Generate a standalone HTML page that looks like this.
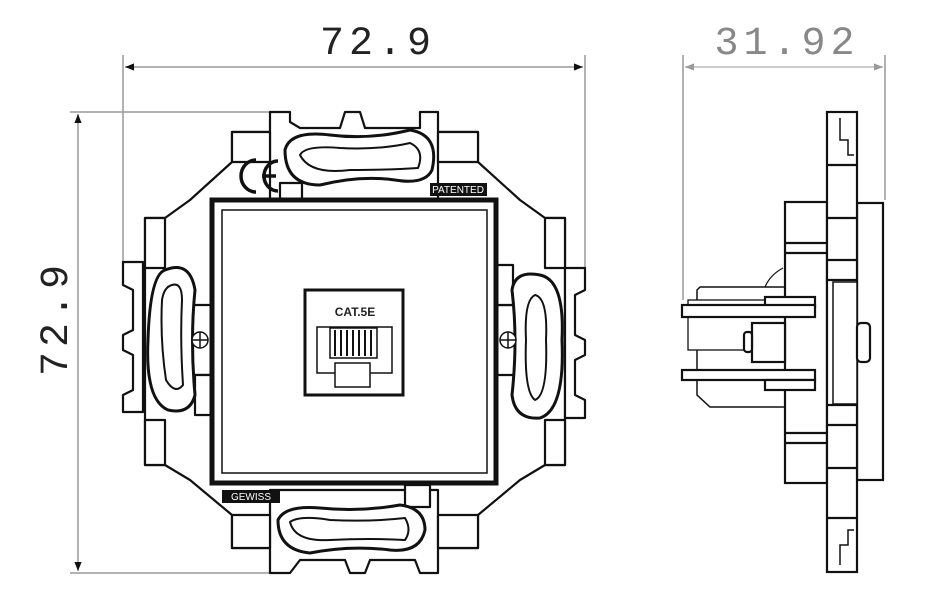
<!DOCTYPE html>
<html><head><meta charset="utf-8"><style>
html,body{margin:0;padding:0;background:#fff;}
svg{display:block;}
</style></head><body>
<svg width="944" height="600" viewBox="0 0 944 600" xmlns="http://www.w3.org/2000/svg">
<defs>
<marker id="ab" viewBox="0 0 10 10" refX="10" refY="5" markerWidth="8" markerHeight="6" orient="auto-start-reverse"><path d="M0,1 L10,5 L0,9z" fill="#111"/></marker>
<marker id="ag" viewBox="0 0 10 10" refX="10" refY="5" markerWidth="8" markerHeight="6" orient="auto-start-reverse"><path d="M0,1 L10,5 L0,9z" fill="#999"/></marker>
</defs>
<g fill="none" stroke="#999" stroke-width="1.5">
<line x1="123" y1="55" x2="123" y2="262"/>
<line x1="585" y1="55" x2="585" y2="268"/>
<line x1="70" y1="112" x2="270" y2="112"/>
<line x1="70" y1="573" x2="285" y2="573"/>
<line x1="683" y1="55" x2="683" y2="300"/>
<line x1="885" y1="55" x2="885" y2="200"/>
<line x1="125" y1="67" x2="583" y2="67" marker-start="url(#ab)" marker-end="url(#ab)"/>
<line x1="78" y1="114" x2="78" y2="571" marker-start="url(#ab)" marker-end="url(#ab)"/>
<line x1="685" y1="67" x2="883" y2="67" stroke="#bbb" marker-start="url(#ag)" marker-end="url(#ag)"/>
</g>
<g font-family="Liberation Mono, monospace" font-size="40">
<text x="378" y="54" text-anchor="middle" fill="#222" letter-spacing="5">72.9</text>
<text x="787" y="54" text-anchor="middle" fill="#888" letter-spacing="5">31.92</text>
<text transform="translate(67,318) rotate(-90)" text-anchor="middle" fill="#222" letter-spacing="5">72.9</text>
</g>

<g fill="#fff" stroke="#111" stroke-width="2.2" stroke-linejoin="round">
<path d="M232,132 L478,132 L478,162 L520,200 L545,218 L565,218 L565,465 L545,465 L520,480 L478,515 L478,548 L232,548 L232,515 L190,480 L165,465 L145,465 L145,218 L165,218 L190,200 L232,162 Z"/>
<path d="M123,262 L143,262 L143,412 L123,412 L123,395 L133,390 L133,355 L123,350 L123,335 L133,330 L133,290 L123,285 Z"/>
<path d="M585,268 L565,268 L565,418 L585,418 L585,400 L575,395 L575,360 L585,355 L585,340 L575,335 L575,295 L585,290 Z"/>
<path d="M270,112 L290,112 L290,122 L300,128 L340,128 L345,112 L360,112 L365,128 L420,128 L420,112 L438,112 L438,200 L270,200 Z"/>
<path d="M270,490 L438,490 L438,573 L420,573 L415,560 L370,560 L365,573 L350,573 L345,560 L300,560 L290,573 L270,573 Z"/>
<rect x="232" y="132" width="38" height="30"/>
<rect x="438" y="132" width="40" height="30"/>
<rect x="232" y="515" width="38" height="33"/>
<rect x="438" y="515" width="40" height="33"/>
<rect x="145" y="218" width="20" height="50"/>
<rect x="145" y="420" width="20" height="45"/>
<rect x="545" y="218" width="20" height="50"/>
<rect x="545" y="420" width="20" height="45"/>
<rect x="185" y="305" width="28" height="70"/>
<rect x="495" y="305" width="28" height="70"/>
<rect x="195" y="375" width="18" height="40"/>
<rect x="495" y="265" width="18" height="40"/>
<rect x="280" y="183" width="22" height="22"/>
<rect x="405" y="485" width="25" height="22"/>
</g>
<g fill="#fff" stroke="#111" stroke-width="3" stroke-linejoin="round">
<path d="M285,150 Q290,130 330,135 Q370,140 410,130 Q440,135 432,170 Q425,185 395,180 Q360,175 320,185 Q285,185 285,150 Z"/>
<path d="M300,155 Q305,145 340,148 Q380,150 410,143 Q425,150 418,168 Q390,170 350,170 Q310,175 300,155 Z" stroke-width="2"/>
<path d="M278,520 Q285,505 320,508 Q360,512 400,505 Q425,508 425,530 Q420,553 390,550 Q350,545 310,553 Q278,550 278,520 Z"/>
<path d="M290,522 Q300,515 330,520 Q370,522 405,518 Q412,530 405,540 Q370,538 330,540 Q295,542 290,522 Z" stroke-width="2"/>
<path d="M165,270 Q190,260 195,290 Q190,340 195,395 Q190,415 168,410 Q145,400 148,340 Q150,275 165,270 Z"/>
<path d="M172,285 Q182,282 182,300 Q180,340 183,385 Q175,395 166,380 Q160,340 162,300 Q164,287 172,285 Z" stroke-width="2"/>
<path d="M540,275 Q565,280 562,340 Q565,410 540,418 Q515,420 512,395 Q518,340 512,290 Q515,270 540,275 Z"/>
<path d="M535,295 Q548,298 546,340 Q548,395 535,400 Q524,392 526,340 Q524,300 535,295 Z" stroke-width="2"/>
</g>
<g fill="#fff" stroke="#111" stroke-width="1.5">
<circle cx="200" cy="340" r="8"/><line x1="192" y1="340" x2="208" y2="340"/><line x1="200" y1="332" x2="200" y2="348"/>
<circle cx="508" cy="340" r="8"/><line x1="500" y1="340" x2="516" y2="340"/><line x1="508" y1="332" x2="508" y2="348"/>
</g>
<g fill="none" stroke="#111" stroke-width="3.5">
<path d="M256,160 A15,16 0 1 0 256,192"/>
<path d="M278,161 A14,15 0 1 0 278,191 M262,176 L276,176"/>
</g>
<rect x="430" y="183" width="57" height="13" fill="#111"/>
<text x="458" y="193" font-family="Liberation Sans, sans-serif" font-size="10" fill="#fff" text-anchor="middle">PATENTED</text>
<rect x="222" y="490" width="58" height="13" fill="#111"/>
<text x="251" y="500" font-family="Liberation Sans, sans-serif" font-size="10" fill="#fff" text-anchor="middle">GEWISS</text>
<rect x="212" y="200" width="284" height="283" fill="#fff" stroke="#111" stroke-width="5"/>
<rect x="222" y="210" width="265" height="263" fill="#fff" stroke="#111" stroke-width="1.5"/>
<rect x="305" y="290" width="98" height="105" fill="#fff" stroke="#111" stroke-width="3"/>
<text x="355" y="316" font-family="Liberation Sans, sans-serif" font-weight="bold" font-size="12" text-anchor="middle" fill="#222">CAT.5E</text>
<rect x="317" y="327" width="75" height="46" fill="#fff" stroke="#111" stroke-width="1.5"/>
<rect x="330" y="328" width="47" height="30" fill="#fff" stroke="#111" stroke-width="1.5"/>
<g stroke="#111" stroke-width="2"><line x1="335" y1="330" x2="335" y2="356"/><line x1="341" y1="330" x2="341" y2="356"/><line x1="347" y1="330" x2="347" y2="356"/><line x1="353" y1="330" x2="353" y2="356"/><line x1="359" y1="330" x2="359" y2="356"/><line x1="365" y1="330" x2="365" y2="356"/><line x1="371" y1="330" x2="371" y2="356"/></g>
<rect x="335" y="363" width="35" height="24" fill="#fff" stroke="#111" stroke-width="1.5"/>

<g fill="#fff" stroke="#111" stroke-width="2.2">
<path d="M700,287 L785,287 L785,407 L710,407 L697,395 L697,290 Z" stroke-width="1.5"/>
<path d="M765,287 Q770,275 783,268" stroke-width="1.2"/>
<rect x="688" y="300" width="97" height="50" stroke-width="1.3"/>
<rect x="785" y="202" width="42" height="281"/>
<line x1="785" y1="243" x2="827" y2="243"/><line x1="785" y1="253" x2="827" y2="253"/>
<line x1="785" y1="433" x2="827" y2="433"/><line x1="785" y1="443" x2="827" y2="443"/>
<rect x="857" y="203" width="26" height="277"/>
<rect x="827" y="112" width="30" height="460"/>
<line x1="827" y1="165" x2="857" y2="165"/><line x1="827" y1="218" x2="857" y2="218"/>
<line x1="827" y1="260" x2="857" y2="260"/><line x1="827" y1="280" x2="857" y2="280"/>
<line x1="827" y1="405" x2="857" y2="405"/><line x1="827" y1="425" x2="857" y2="425"/>
<line x1="827" y1="468" x2="857" y2="468"/><line x1="827" y1="518" x2="857" y2="518"/>
<path d="M840,118 L840,140 L848,140 L848,155 L854,155" fill="none" stroke-width="1.5"/>
<path d="M840,565 L840,545 L848,545 L848,530 L854,530" fill="none" stroke-width="1.5"/>
<rect x="833" y="282" width="24" height="122" stroke-width="1.5"/>
<rect x="765" y="297" width="50" height="10"/>
<rect x="682" y="305" width="133" height="12"/>
<rect x="682" y="370" width="133" height="10"/>
<rect x="765" y="380" width="50" height="10"/>
<rect x="752" y="323" width="33" height="39"/>
<rect x="744" y="332" width="8" height="20" rx="3"/>
<rect x="857" y="323" width="13" height="39" rx="4"/>
</g>
</svg>
</body></html>
